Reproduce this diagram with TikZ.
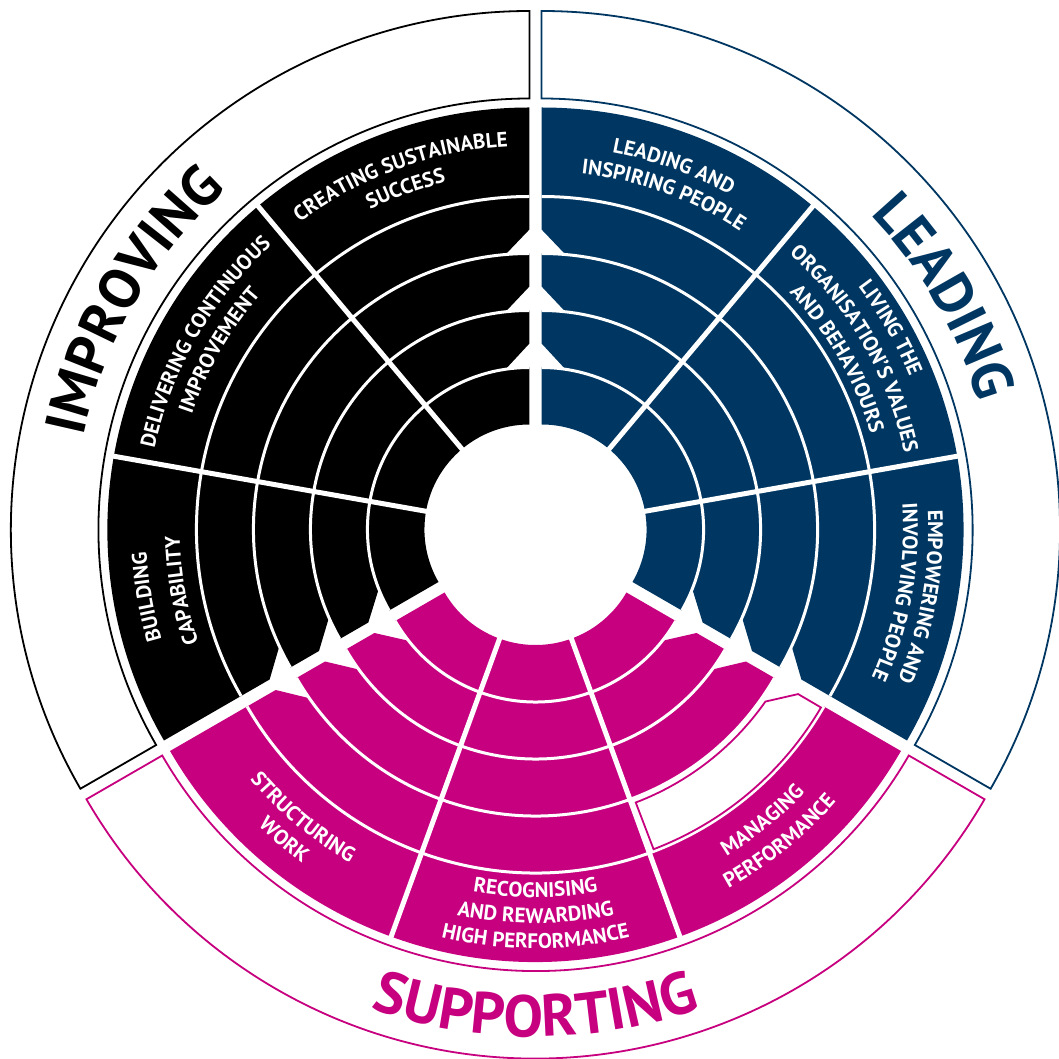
\documentclass[tikz,border=0pt]{standalone}
\usepackage{fontspec}
\setmainfont{PT Sans}
\newfontfamily\labfont{PT Sans}
\usetikzlibrary{decorations.text}
\definecolor{navy}{RGB}{0,55,98}
\definecolor{mag}{RGB}{198,0,126}
\tikzset{
  sepline/.style={white,line width=3pt},
  radline/.style={white,line width=5pt},
  ringline/.style={line width=1.8pt},
}
% band fill: #1 colour, #2 start angle, #3 end angle, #4 inner r, #5 outer r, #6/#7 chamfer at start/end (0/1)
\newcommand\bandfill[7]{%
  \pgfmathsetmacro\bfCa{#6*24}%
  \pgfmathsetmacro\bfCb{#7*24}%
  \pgfmathsetmacro\bfA{#2+\bfCa/#4*57.29578}%
  \pgfmathsetmacro\bfB{#3-\bfCb/#4*57.29578}%
  \pgfmathsetmacro\bfRa{#4+\bfCa}%
  \pgfmathsetmacro\bfRb{#4+\bfCb}%
  \fill[#1] (#2:\bfRa pt) -- (\bfA:#4pt) arc[start angle=\bfA,end angle=\bfB,radius=#4pt]
    -- (#3:\bfRb pt) -- (#3:#5pt) arc[start angle=#3,end angle=#2,radius=#5pt] -- cycle;}
% curved text: #1 cap-centre radius, #2 centre angle, #3 1 = tops outward / -1 = tops inward, #4 size, #5 colour, #6 text
\newcommand\ctext[6]{%
  \pgfmathsetmacro\ctA{#2+#3*38}%
  \pgfmathsetmacro\ctB{#2-#3*38}%
  \pgfmathsetmacro\ctR{#1-#3*0.35*#4}%
  \path[decorate,decoration={text along path,
      text={|\labfont\bfseries\fontsize{#4}{#4}\selectfont|#6},
      text align=center,text color=#5}]
    (\ctA:\ctR pt) arc[start angle=\ctA,end angle=\ctB,radius=\ctR pt];}
\newcommand\groupbands[3]{% #1 colour, #2 start, #3 end
  \bandfill{#1}{#2}{#3}{105}{162}{0}{0}
  \bandfill{#1}{#2}{#3}{162}{219}{1}{1}
  \bandfill{#1}{#2}{#3}{219}{276}{1}{1}
  \bandfill{#1}{#2}{#3}{333}{422}{0}{0}}
\newcommand\groupseps[2]{%
  \foreach \r in {162,219,276,333}
    \draw[sepline] (#1:\r pt) arc[start angle=#1,end angle=#2,radius=\r pt];}
\newcommand\groupring[3]{%
  \draw[ringline,#1] (#2:431pt) arc[start angle=#2,end angle=#3,radius=431pt]
    -- (#3:518.5pt) arc[start angle=#3,end angle=#2,radius=518.5pt] -- cycle;}
\begin{document}
\begin{tikzpicture}
\useasboundingbox (-535.5pt,-526pt) rectangle (522.5pt,533pt);
% ---------------- IMPROVING (black) ----------------
\begin{scope}[shift={(150:7pt)}]
  \groupbands{black}{90}{210}
  \bandfill{black}{90}{210}{276}{333}{1}{1}
  \foreach \a in {130,170} \draw[radline] (\a:100pt) -- (\a:426pt);
  \groupseps{90}{210}
  \groupring{black}{90}{210}
  \ctext{391}{110}{1}{21}{white}{CREATING SUSTAINABLE}
  \ctext{364.5}{110}{1}{21}{white}{SUCCESS}
  \ctext{391}{150}{1}{21}{white}{DELIVERING CONTINUOUS}
  \ctext{364}{150}{1}{21}{white}{IMPROVEMENT}
  \ctext{391}{190}{1}{21}{white}{BUILDING}
  \ctext{357}{190}{1}{21}{white}{CAPABILITY}
  \ctext{475}{150}{1}{57}{black}{IMPROVING}
\end{scope}
% ---------------- LEADING (navy) ----------------
\begin{scope}[shift={(30:7pt)}]
  \groupbands{navy}{-30}{90}
  \bandfill{navy}{-30}{90}{276}{333}{1}{1}
  \foreach \a in {50,10} \draw[radline] (\a:100pt) -- (\a:426pt);
  \groupseps{-30}{90}
  \groupring{navy}{-30}{90}
  \ctext{391}{70}{1}{21}{white}{LEADING AND}
  \ctext{365.5}{70}{1}{21}{white}{INSPIRING PEOPLE}
  \ctext{406}{30}{1}{21}{white}{LIVING THE}
  \ctext{378}{30}{1}{21}{white}{ORGANISATION’S VALUES}
  \ctext{350}{30}{1}{21}{white}{AND BEHAVIOURS}
  \ctext{394}{-10}{1}{21}{white}{EMPOWERING AND}
  \ctext{369}{-10}{1}{21}{white}{INVOLVING PEOPLE}
  \ctext{475}{30}{1}{57}{navy}{LEADING}
\end{scope}
% ---------------- SUPPORTING (magenta) ----------------
\begin{scope}[shift={(270:7pt)}]
  \groupbands{mag}{210}{330}
  \bandfill{mag}{210}{290}{276}{333}{1}{0}
  \foreach \a in {250,290} \draw[radline] (\a:100pt) -- (\a:426pt);
  \groupseps{210}{330}
  \draw[ringline,mag,fill=white] (290.9:281pt) arc[start angle=290.9,end angle=324.9,radius=281pt]
    -- (329.6:304.5pt) -- (329.6:331pt) arc[start angle=329.6,end angle=290.9,radius=331pt] -- cycle;
  \groupring{mag}{210}{330}
  \ctext{365}{230}{-1}{21}{white}{STRUCTURING}
  \ctext{391}{230}{-1}{21}{white}{WORK}
  \ctext{350}{270}{-1}{21}{white}{RECOGNISING}
  \ctext{376}{270}{-1}{21}{white}{AND REWARDING}
  \ctext{401}{270}{-1}{21}{white}{HIGH PERFORMANCE}
  \ctext{362}{309}{-1}{21}{white}{MANAGING}
  \ctext{391}{309}{-1}{21}{white}{PERFORMANCE}
  \ctext{476}{270}{-1}{59}{mag}{SUPPORTING}
\end{scope}
\end{tikzpicture}
\end{document}
